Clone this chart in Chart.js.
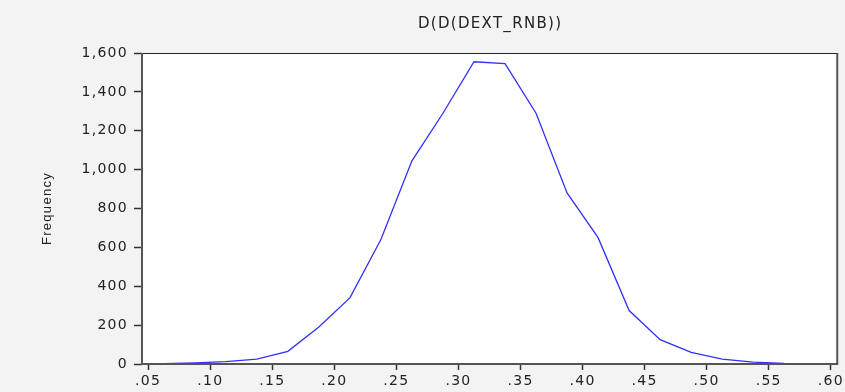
<!DOCTYPE html>
<html>
<head>
<meta charset="utf-8">
<script src="https://cdn.jsdelivr.net/npm/chart.js@4.4.1/dist/chart.umd.min.js"></script>
<style>
  html,body{margin:0;padding:0;background:#f3f3f3;}
  #wrap{width:845px;height:392px;position:relative;}
</style>
</head>
<body>
<div id="wrap"><canvas id="myChart"></canvas></div>
<script>
'use strict';
// bin midpoints and counts
const binCenters=[0.0625,0.0875,0.1125,0.1375,0.1625,0.1875,0.2125,0.2375,0.2625,0.2875,0.3125,0.3375,0.3625,0.3875,0.4125,0.4375,0.4625,0.4875,0.5125,0.5375,0.5625];
const frequency=[2,6,12,25,65,190,340,640,1045,1290,1555,1545,1290,880,650,275,125,60,25,10,3];
const xTicks=[0.05,0.10,0.15,0.20,0.25,0.30,0.35,0.40,0.45,0.50,0.55,0.60];
const yTicks=[0,200,400,600,800,1000,1200,1400,1600];
const chartTitle='D(D(DEXT_RNB))';
const yTitle='Frequency';

let points=[];
for (let i = 0; i < binCenters.length; i++) {
  points.push({x:binCenters[i],y:frequency[i]});
}

// white plot area + frame round it
const frame={
  id:'frame',
  beforeInit(chart){
    chart.ctx.letterSpacing='1.3px';
  },
  beforeDraw(chart){
    let ctx=chart.ctx;
    let a=chart.chartArea;
    ctx.save();
    ctx.fillStyle='#f3f3f3';
    ctx.fillRect(0,0,chart.width,chart.height);
    ctx.fillStyle='#ffffff';
    ctx.fillRect(a.left,a.top,a.right-a.left,a.bottom-a.top);
    ctx.restore();
    ctx.letterSpacing='1.3px';
  },
  afterDatasetsDraw(chart){
    let ctx=chart.ctx;
    let a=chart.chartArea;
    ctx.save();
    ctx.lineWidth=1;
    ctx.strokeStyle='#222';
    ctx.beginPath();
    ctx.moveTo(a.left,a.top+0.5);
    ctx.lineTo(a.right,a.top+0.5);
    ctx.stroke();
    ctx.lineWidth=2;
    ctx.strokeStyle='#555';
    ctx.beginPath();
    ctx.moveTo(a.right-1,a.top);
    ctx.lineTo(a.right-1,a.bottom);
    ctx.stroke();
    ctx.beginPath();
    ctx.moveTo(a.left,a.top);
    ctx.lineTo(a.left,a.bottom);
    ctx.lineTo(a.right,a.bottom);
    ctx.stroke();
    ctx.restore();
  }
};

let ctx=document.getElementById('myChart').getContext('2d');
let chart=new Chart(ctx,{
  type:'line',
  data:{
    datasets:[{
      label:yTitle,
      data:points,
      borderColor:'#3030ff',
      borderWidth:1.3,
      pointRadius:0,
      tension:0,
      fill:false
    }]
  },
  options:{
    responsive:true,
    maintainAspectRatio:false,
    animation:false,
    layout:{padding:{left:0,right:2,top:0,bottom:0}},
    plugins:{
      legend:{display:false},
      tooltip:{enabled:false},
      title:{
        display:true,
        fullSize:false,
        text:chartTitle,
        color:'#222',
        font:{family:'DejaVu Sans',size:15,weight:'normal',lineHeight:1.2},
        padding:{top:15,bottom:20}
      }
    },
    scales:{
      x:{
        type:'linear',
        min:0.045,
        max:0.606,
        afterBuildTicks(axis){
          axis.ticks=xTicks.map(v=>({value:v}));
        },
        afterFit(axis){axis.height=28;},
        border:{display:false},
        grid:{drawOnChartArea:false,drawTicks:true,tickLength:6,color:'#333',tickWidth:1.5},
        ticks:{
          color:'#222',
          padding:3,
          maxRotation:0,
          autoSkip:false,
          font:{family:'DejaVu Sans',size:14},
          callback(v){return v.toFixed(2).replace(/^0/,'');}
        }
      },
      y:{
        min:0,
        max:1600,
        afterBuildTicks(axis){
          axis.ticks=yTicks.map(v=>({value:v}));
        },
        afterFit(axis){axis.width=142;},
        border:{display:false},
        grid:{drawOnChartArea:false,drawTicks:true,tickLength:8,color:'#333',tickWidth:1.5},
        title:{
          display:true,
          text:yTitle,
          color:'#222',
          font:{family:'Liberation Sans Narrow, Liberation Sans',size:13},
          padding:{top:40,bottom:0}
        },
        ticks:{
          color:'#222',
          padding:6,
          font:{family:'DejaVu Sans',size:14}
        }
      }
    }
  },
  plugins:[frame]
});
</script>
</body>
</html>
